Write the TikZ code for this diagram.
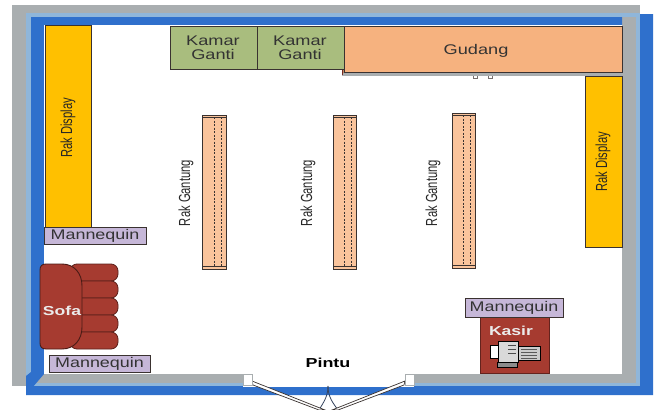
\documentclass[tikz,border=0pt]{standalone}
\usepackage{fontspec}
\setmainfont{Liberation Sans}
\definecolor{wallgray}{HTML}{A9AEB0}
\definecolor{walllight}{HTML}{8FB6DA}
\definecolor{wallblue}{HTML}{2F70CC}
\definecolor{rakyellow}{HTML}{FFC000}
\definecolor{kamargreen}{HTML}{A9BD7E}
\definecolor{gudangorange}{HTML}{F6B27F}
\definecolor{rakpeach}{HTML}{FAC49C}
\definecolor{lilac}{HTML}{C6B7D8}
\definecolor{sofared}{HTML}{A63B30}
\definecolor{darkline}{HTML}{3A3230}
\newcommand{\wide}[2][1.28]{\scalebox{#1}[1]{#2}}
\tikzset{
  x=1pt,y=-1pt,
  box/.style={draw=darkline,line width=.8pt},
  rakdisplay/.style={box,fill=rakyellow},
  kamar/.style={box,fill=kamargreen},
  rakgantung/.style={box,fill=rakpeach},
  tag/.style={draw=darkline,line width=.8pt,fill=lilac,minimum width=#1,minimum height=17pt,inner sep=0pt,text=black!80,font=\fontsize{14}{14}\selectfont},
  sidelabel/.style={rotate=90,xscale=.7,font=\fontsize{16}{16}\selectfont,text=black!85},
  widelabel/.style={align=center,xscale=1.3,font=\fontsize{14}{14}\selectfont,text=black!80},
  whitelabel/.style={text=white!92!black,xscale=1.35,font=\bfseries\fontsize{13}{14}\selectfont},
  cushion/.style={draw=sofared!55!black,line width=.8pt,fill=sofared,rounded corners=7pt},
  leaf/.style={draw=darkline,line width=.7pt,fill=white},
}
\begin{document}
\begin{tikzpicture}
\useasboundingbox (0,0) rectangle (657,410);
% walls
\fill[wallgray] (12,5) rectangle (640,386);
\fill[wallblue] (640,14) -- (653,14) -- (653,395) -- (26,395) -- (26,386) -- (640,386) -- cycle;
\fill[walllight] (26,13) rectangle (640,386);
\fill[wallgray] (31,17) rectangle (636,383);
\fill[wallblue] (31,17) -- (622,17) -- (622,25) -- (44,25) -- (44,374) -- (26,395) -- (26,376) -- (31,372) -- cycle;
\fill[white] (44,25) rectangle (622,374);
\fill[wallblue] (26,386) rectangle (640,395);
\fill[white] (243,374) rectangle (414,387);
% door
\draw[darkline!70!wallblue,line width=.8pt] (328,386) .. controls (328,397) and (323,403) .. (319,410);
\draw[darkline!70!wallblue,line width=.8pt] (328,386) .. controls (328,397) and (333,403) .. (338,410);
\fill[leaf] (252,381) -- (253,385) -- (319,410) -- (325,410) -- cycle;
\fill[leaf] (405,381) -- (404,385) -- (338,410) -- (332,410) -- cycle;
\node[draw=wallgray,line width=.4pt,fill=white,minimum width=9pt,minimum height=11pt,inner sep=0pt] (hingeL) at (247.5,380) {};
\node[draw=wallgray,line width=.4pt,fill=white,minimum width=9pt,minimum height=11pt,inner sep=0pt] (hingeR) at (410,380) {};
\node[font=\bfseries\fontsize{13}{14}\selectfont,xscale=1.38] (pintu) at (328,362.5) {Pintu};
% top rooms
\fill[gudangorange!75!black] (342,69) rectangle (622,73);
\fill[wallgray] (342,73) rectangle (622,76);
\draw[sofared!70!black,line width=.7pt] (342,69) -- (342,75);
\draw[box,fill=gudangorange] (344,26) rectangle (622,72);
\node[widelabel] (gudang) at (476,51) {Gudang};
\draw[darkline!70,line width=.8pt] (473,76) -- (473,78) -- (477,78) -- (477,76) (488,76) -- (488,78) -- (492,78) -- (492,76);
\draw[kamar] (170,26) rectangle (257,69);
\draw[kamar] (257,26) rectangle (344,69);
\node[widelabel] (kamarA) at (213,47.5) {Kamar\\Ganti};
\node[widelabel] (kamarB) at (300,47.5) {Kamar\\Ganti};
% display racks
\draw[rakdisplay] (45,25) rectangle (91,228);
\node[sidelabel] (displayA) at (68,128) {Rak Display};
\draw[rakdisplay] (585,76) rectangle (622,247);
\node[sidelabel] (displayB) at (603,162) {Rak Display};
% hanging racks
\foreach \xa/\xb/\da/\db/\ya/\yb/\lx/\nm in {202/226/214/221/115/269/186/A,333/356/344/351/115/269/308/B,452/475/463/470/113/268/433/C}{
  \draw[rakgantung] (\xa,\ya) rectangle (\xb,\yb);
  \draw[darkline,line width=.8pt] (\xa,\yb-3) -- (\xb,\yb-3);
  \draw[darkline,line width=.5pt] (\xa,\ya+2) -- (\xb,\ya+2);
  \draw[darkline,line width=.6pt,dash pattern=on 2pt off 1.5pt] (\da,\ya+2) -- (\da,\yb-3);
  \draw[darkline,line width=.6pt,dash pattern=on 2pt off 1.5pt] (\db,\ya+2) -- (\db,\yb-3);
  \node[sidelabel] (gantung\nm) at (\lx,193) {Rak Gantung};
}
% sofa
\foreach \ya/\yb in {264/281,281/298,298/315,315/332,332/349}{
  \draw[cushion] (70,\ya) -- (118,\ya) -- (118,\yb) -- (70,\yb) -- cycle;
}
\draw[draw=sofared!45!black,line width=.9pt,fill=sofared] (46,264) -- (62,264) .. controls (74,264) and (82,273) .. (82,286) -- (82,327) .. controls (82,340) and (74,349) .. (62,349) -- (46,349) .. controls (42,349) and (40,347) .. (40,343) -- (40,270) .. controls (40,266) and (42,264) .. (46,264) -- cycle;
\node[whitelabel] (sofa) at (62,311) {Sofa};
% mannequins
\node[tag=102pt] (manA) at (95,235.5) {\wide{Mannequin}};
\node[tag=101pt] (manB) at (99.5,364) {\wide{Mannequin}};
% kasir
\node[draw=sofared!60!black,line width=.6pt,fill=sofared,minimum width=69pt,minimum height=56pt,inner sep=0pt] (kasirbox) at (514.5,345) {};
\node[tag=98pt,minimum height=19pt] (manC) at (514,307.5) {\wide{Mannequin}};
\node[whitelabel] (kasir) at (511,331) {Kasir};
% cash register icon
\draw[black,line width=.6pt,fill=white] (490,345) rectangle (498,358);
\draw[black,line width=.7pt,fill=black!15] (498,341) rectangle (518,362);
\draw[black!70,line width=.6pt] (508,345) -- (516,345) (508,349) -- (516,349) (508,353) -- (516,353);
\draw[black,line width=.8pt,fill=black!45] (497,362) rectangle (517,367);
\draw[black,line width=.6pt,fill=black!20] (518,346) rectangle (540,360);
\draw[black!65,line width=.6pt] (521,349) -- (537,349) (521,352) -- (537,352) (521,355) -- (537,355) (521,358) -- (537,358);
\end{tikzpicture}
\end{document}
